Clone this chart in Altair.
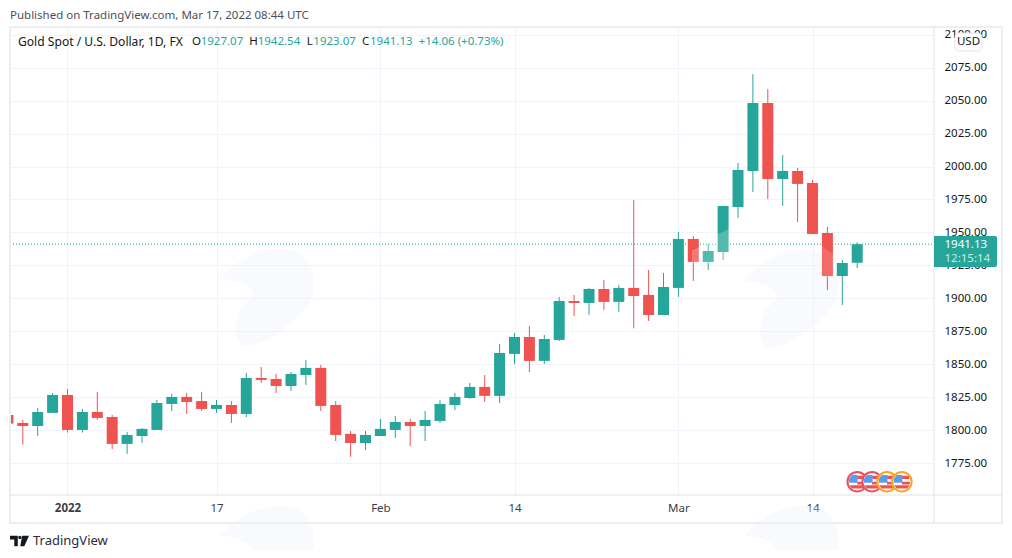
import altair as alt
import pandas as pd

FONT = "Noto Sans"
UP = "#26a69a"
DOWN = "#ef5350"

idx = list(range(-4, 54))
opens = [1811.7, 1805.7, 1803.4, 1813.3, 1826.9, 1800.4, 1814.0, 1810.2, 1789.8, 1795.8,
         1800.4, 1820.1, 1825.4, 1822.3, 1816.3, 1819.3, 1812.5, 1839.8, 1839.0, 1833.7,
         1842.0, 1847.4, 1819.3, 1797.4, 1790.5, 1795.8, 1800.4, 1806.4, 1803.4, 1807.2,
         1819.3, 1824.6, 1833.0, 1826.2, 1858.0, 1870.8, 1852.7, 1868.6, 1898.1, 1896.6,
         1907.2, 1897.4, 1908.0, 1902.7, 1887.5, 1908.0, 1945.1, 1927.7, 1935.2, 1969.3,
         1996.6, 2048.1, 1990.5, 1996.6, 1987.5, 1949.6, 1917.0, 1927.07]
highs = [1812.5, 1808.0, 1817.1, 1828.4, 1831.4, 1816.3, 1829.2, 1811.7, 1798.9, 1801.9,
         1823.1, 1827.7, 1828.4, 1829.2, 1823.1, 1822.3, 1843.6, 1848.1, 1842.8, 1844.3,
         1853.4, 1849.6, 1822.3, 1799.6, 1799.6, 1808.7, 1811.0, 1808.7, 1814.8, 1823.1,
         1828.4, 1836.0, 1842.0, 1865.5, 1873.9, 1879.2, 1872.4, 1901.2, 1902.7, 1908.0,
         1914.0, 1910.2, 1974.6, 1921.6, 1919.3, 1950.4, 1947.4, 1941.3, 1970.1, 2002.7,
         2070.1, 2058.7, 2008.7, 1998.9, 1989.8, 1954.2, 1929.2, 1942.54]
lows = [1804.5, 1789.3, 1795.8, 1813.3, 1798.4, 1798.4, 1808.0, 1786.0, 1782.2, 1790.5,
        1800.4, 1814.8, 1812.5, 1814.8, 1813.3, 1805.7, 1810.2, 1836.0, 1828.4, 1829.9,
        1834.5, 1814.8, 1792.0, 1780.0, 1785.2, 1795.8, 1794.3, 1788.3, 1792.0, 1805.7,
        1815.5, 1823.9, 1821.6, 1820.8, 1850.4, 1844.3, 1850.4, 1867.8, 1886.7, 1887.5,
        1891.3, 1889.8, 1877.4, 1883.0, 1887.5, 1901.2, 1913.3, 1921.6, 1929.2, 1961.0,
        1980.7, 1975.4, 1970.1, 1957.9, 1948.9, 1906.4, 1895.1, 1923.07]
closes = [1805.2, 1803.4, 1814.0, 1826.9, 1800.4, 1814.0, 1809.5, 1789.8, 1796.6, 1801.2,
          1820.8, 1825.4, 1821.6, 1816.3, 1819.3, 1812.5, 1839.8, 1838.3, 1833.7, 1842.8,
          1847.4, 1818.6, 1796.6, 1790.5, 1796.6, 1801.2, 1806.4, 1803.4, 1808.0, 1820.1,
          1825.4, 1833.0, 1826.2, 1858.7, 1870.8, 1852.7, 1869.3, 1898.1, 1896.6, 1907.2,
          1897.4, 1908.0, 1901.9, 1887.5, 1908.7, 1945.1, 1927.7, 1936.0, 1970.1, 1997.4,
          2048.1, 1990.5, 1996.6, 1986.8, 1948.9, 1917.0, 1926.9, 1941.13]

x_tick_values = [0, 10, 21, 30, 41, 50]
x_tick_labels = ["2022", "17", "Feb", "14", "Mar", "14"]
y_tick_values = [1775, 1800, 1825, 1850, 1875, 1900, 1925, 1950, 1975, 2000, 2025, 2050, 2075, 2100]
x_domain = [-3.859, 58.154]
y_domain = [1751.1, 2105.7]
last_price = 1941.13
event_idx = [53, 54, 55, 56]
event_ring = ["#e8505f", "#e8505f", "#f5a623", "#f5a623"]

df = pd.DataFrame({"i": idx, "o": opens, "h": highs, "l": lows, "c": closes})
df["dir"] = ["up" if c >= o else "down" for o, c in zip(opens, closes)]

label_map = "{" + ",".join(f"'{v}':'{t}'" for v, t in zip(x_tick_values, x_tick_labels)) + "}"
xs = alt.Scale(domain=x_domain, nice=False, zero=False, padding=0)
ys = alt.Scale(domain=y_domain, nice=False, zero=False, padding=0)
colors = alt.Scale(domain=["up", "down"], range=[UP, DOWN])

x_axis = alt.Axis(values=x_tick_values, labelExpr=f"{label_map}[datum.value]", title=None, grid=True,
                  gridColor="#f0f3fa", gridWidth=1, domain=False, ticks=False, labelPadding=7,
                  labelFont=FONT, labelFontSize=11.5, labelColor="#3a3e4a",
                  labelFontWeight=alt.expr("datum.value == 0 ? 'bold' : 'normal'"), labelFlush=False,
                  labelOverlap=False)
y_axis = alt.Axis(values=y_tick_values, format=".2f", orient="right", title=None, grid=True,
                  gridColor="#f0f3fa", gridWidth=1, domain=False, ticks=False, labelPadding=10,
                  labelFont=FONT, labelFontSize=11.5, labelColor="#131722", labelOverlap=False,
                  labelAlign="left", labelBaseline="middle")
X = alt.X("i:Q", scale=xs, axis=x_axis)

base = alt.Chart(df)
wicks = base.mark_rule(strokeWidth=1, clip=True).encode(
    x=X, y=alt.Y("l:Q", scale=ys, axis=y_axis), y2="h:Q",
    color=alt.Color("dir:N", scale=colors, legend=None))
bodies = base.mark_bar(size=11, clip=True).encode(
    x=X, y=alt.Y("o:Q", scale=ys, axis=y_axis), y2="c:Q",
    color=alt.Color("dir:N", scale=colors, legend=None))
last_line = alt.Chart(pd.DataFrame({"p": [last_price]})).mark_rule(
    color="#1f9a8e", strokeWidth=1, strokeDash=[1, 2]).encode(
    y=alt.Y("p:Q", scale=ys, axis=y_axis), x=alt.value(0), x2=alt.value(924))

one = alt.Chart(pd.DataFrame({"a": [0]}))


def text(x, y, s, color="#131722", size=11.5, align="left", weight="normal", opacity=1):
    return one.mark_text(font=FONT, fontSize=size, align=align, baseline="middle", color=color,
                         fontWeight=weight, opacity=opacity).encode(
        x=alt.value(x), y=alt.value(y), text=alt.value(s))


def box(x, x2, y, y2, **kw):
    return one.mark_rect(**kw).encode(x=alt.value(x), x2=alt.value(x2), y=alt.value(y), y2=alt.value(y2))


BLOB = ("M-0.95,-0.35 C-0.5,-0.9 0.3,-1.1 0.7,-0.8 C1,-0.5 1,0 0.7,0.3 C0.3,0.7 -0.1,1 -0.5,1 "
        "C-0.7,0.8 -0.7,0.4 -0.4,0.1 C-0.1,-0.1 -0.5,-0.3 -0.95,-0.35 Z")
blobs = [one.mark_point(shape=BLOB, size=10000, filled=True, color="#eef2fb", opacity=0.35, strokeWidth=0).encode(
    x=alt.value(px), y=alt.value(py)) for px, py in [(258, 269), (258, 526), (782, 271), (782, 526)]]

sheen_a = one.mark_point(shape="M-0.45,0.075 L-0.25,0 L0.15,-0.3 L0.475,-0.45 L0.475,0.425 L-0.45,0.425 Z",
                         size=6400, filled=True, color="#ffffff", opacity=0.22, strokeWidth=0).encode(
    x=alt.value(700), y=alt.value(220))
sheen_b = one.mark_point(shape="M-0.35,-0.85 L0.35,-0.3 L0.35,0.8 L-0.35,0.8 Z", size=1600,
                         filled=True, color="#ffffff", opacity=0.14, strokeWidth=0).encode(
    x=alt.value(818), y=alt.value(235))

frame = box(0, 992, 0, 496, fill="transparent", stroke="#edeef2", strokeWidth=2)
sep_v = one.mark_rule(color="#e0e3eb", strokeWidth=1).encode(x=alt.value(924), y=alt.value(0), y2=alt.value(496))
sep_h = one.mark_rule(color="#e0e3eb", strokeWidth=1).encode(y=alt.value(468), x=alt.value(0), x2=alt.value(992))

price_box = box(924, 987, 209, 240, fill=UP, cornerRadiusTopRight=2, cornerRadiusBottomRight=2)
price_txt = text(934.5, 217.5, "1941.13", color="#ffffff")
timer_txt = text(934.5, 231.5, "12:15:14", color="#ffffff", opacity=0.75)
usd_box = box(945, 972, 6, 24, fill="#ffffff", stroke="#e0e3eb", strokeWidth=1, cornerRadius=4)
usd_txt = text(958.5, 15, "USD", align="center")

texts = [
    text(0, -11, "Published on TradingView.com, Mar 17, 2022 08:44 UTC", color="#4a4f5c", size=11.5),
    text(8, 15, "Gold Spot / U.S. Dollar, 1D, FX", size=12.1),
    text(182, 15, "O"), text(190.7, 15, "1927.07", color=UP),
    text(239.3, 15, "H"), text(247.7, 15, "1942.54", color=UP),
    text(296.7, 15, "L"), text(303.3, 15, "1923.07", color=UP),
    text(352, 15, "C"), text(360, 15, "1941.13", color=UP),
    text(408.7, 15, "+14.06 (+0.73%)", color=UP),
    text(23, 514, "TradingView", size=13, color="#2a2e39"),
]
logo = one.mark_point(shape="M-1,-0.55 L-0.18,-0.55 L-0.18,0.55 L-0.55,0.55 L-0.55,-0.17 L-1,-0.17 Z "
                            "M0.28,-0.55 L1,-0.55 L0.5,0.55 L0.08,0.55 Z M-0.13,-0.37 A0.17,0.17 0 1 1 0.21,-0.37 "
                            "A0.17,0.17 0 1 1 -0.13,-0.37 Z",
                      filled=True, size=361, opacity=1, color="#131722", strokeWidth=0).encode(
    x=alt.value(9.5), y=alt.value(514))

flag_layers = []
FS = 380
for ei, ring in zip(event_idx, event_ring):
    d = alt.Chart(pd.DataFrame({"i": [ei]}))
    enc = dict(x=X, y=alt.value(454.7))
    flag_layers.append(d.mark_point(shape="circle", size=FS, filled=True, color="#ffffff", opacity=1).encode(**enc))
    flag_layers.append(d.mark_point(
        shape="M0,-0.62 L0.72,-0.62 L0.78,-0.28 L0,-0.28 Z M0,0.0 L0.85,0.0 L0.8,0.3 L0,0.3 Z "
              "M-0.78,0.36 L0.78,0.36 L0.55,0.7 L-0.55,0.7 Z",
        size=FS, filled=True, color="#ef5350", opacity=1, strokeWidth=0).encode(**enc))
    flag_layers.append(d.mark_point(
        shape="M-0.55,-0.68 L0.05,-0.68 L0.05,0.1 L-0.85,0.1 L-0.82,-0.3 Z",
        size=FS, filled=True, color="#5b9cf0", opacity=1, strokeWidth=0).encode(**enc))
    flag_layers.append(d.mark_point(shape="circle", size=FS, filled=False, color=ring, strokeWidth=2, opacity=1).encode(**enc))

chart = alt.layer(
    *blobs, last_line, wicks, bodies, sheen_a, sheen_b, frame, sep_v, sep_h, *flag_layers,
    price_box, price_txt, timer_txt, usd_box, usd_txt, logo, *texts
).resolve_scale(x="shared", y="shared").properties(
    width=924, height=468,
    padding={"left": 2, "top": 19, "right": 70, "bottom": 55},
    autosize=alt.AutoSizeParams(type="none"),
    background="#ffffff",
).configure_view(stroke=None)

chart.save("out.html", embed_options={"renderer": "svg", "actions": False})
